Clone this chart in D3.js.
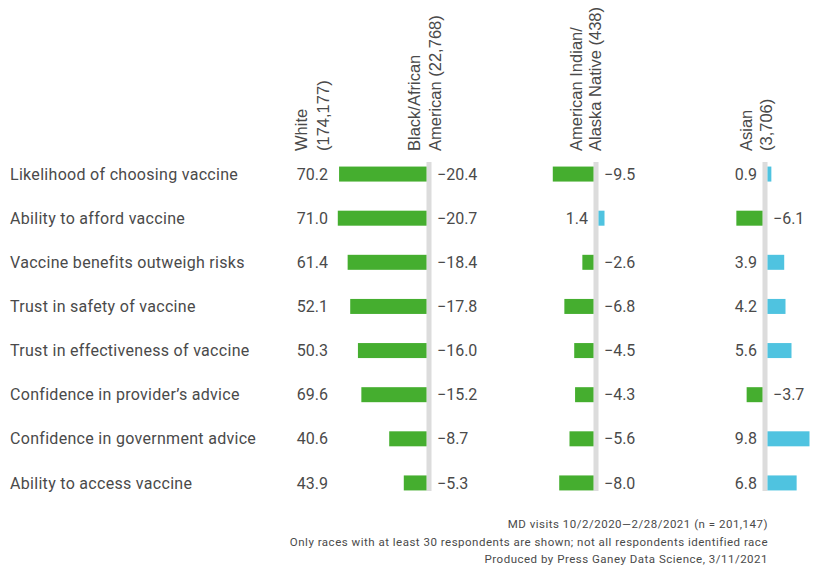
<!DOCTYPE html>
<html>
<head>
<meta charset="utf-8">
<script src="https://cdn.jsdelivr.net/npm/d3@7"></script>
<style>
  html, body { margin: 0; padding: 0; background: #ffffff; }
  svg { display: block; }
</style>
</head>
<body>
<svg id="chart" width="817" height="567"></svg>
<script>
// Vaccine attitude measures, white baseline and gaps for other groups (percentage points)
const categories = [
  "Likelihood of choosing vaccine",
  "Ability to afford vaccine",
  "Vaccine benefits outweigh risks",
  "Trust in safety of vaccine",
  "Trust in effectiveness of vaccine",
  "Confidence in provider\u2019s advice",
  "Confidence in government advice",
  "Ability to access vaccine"
];
const whiteValues = [70.2, 71.0, 61.4, 52.1, 50.3, 69.6, 40.6, 43.9];
const blackValues = [-20.4, -20.7, -18.4, -17.8, -16.0, -15.2, -8.7, -5.3];
const aianValues = [-9.5, 1.4, -2.6, -6.8, -4.5, -4.3, -5.6, -8.0];
const asianValues = [0.9, -6.1, 3.9, 4.2, 5.6, -3.7, 9.8, 6.8];

const headerWhite = ["White", "(174,177)"];
const headerBlack = ["Black/African", "American (22,768)"];
const headerAian = ["American Indian/", "Alaska Native (438)"];
const headerAsian = ["Asian", "(3,706)"];

const footnotes = [
  "MD visits 10/2/2020\u20142/28/2021 (n = 201,147)",
  "Only races with at least 30 respondents are shown; not all respondents identified race",
  "Produced by Press Ganey Data Science, 3/11/2021"
];

const svg = d3.select("#chart");
const textColor = "#4a4a4a";
const green = "#45ae2f";
const blue = "#4fc3e0";
const rule = "#dcdcdc";
const bodyFont = "Roboto, 'Open Sans', sans-serif";
const headFont = "'Liberation Sans', Arial, sans-serif";
const bodySize = 16;
const bodySpacing = 0.3;

const y = d3.scaleBand().domain(categories).range([152, 505]).padding(0);
const rowMid = d => y(d) + y.bandwidth() / 2;
const barH = 15;

// bar length per percentage point, shared by every gap column
const len = d3.scaleLinear().domain([0, 21]).range([0, 90]);

// row labels
svg.append("g").selectAll("text").data(categories).join("text")
  .attr("x", 10).attr("y", d => rowMid(d)).attr("dy", "0.35em")
  .attr("font-family", bodyFont).attr("font-size", bodySize)
  .attr("letter-spacing", bodySpacing).attr("fill", textColor)
  .text(d => d);

// white baseline column (numbers only)
svg.append("g").selectAll("text").data(whiteValues).join("text")
  .attr("x", 328).attr("y", (d, i) => rowMid(categories[i])).attr("dy", "0.35em")
  .attr("text-anchor", "end")
  .attr("font-family", bodyFont).attr("font-size", bodySize).attr("fill", textColor)
  .text(d => d.toFixed(1));

function rotatedHeader(lines, baselines) {
  const g = svg.append("g");
  lines.forEach((t, i) => {
    g.append("text")
      .attr("transform", `translate(${baselines[i]},151) rotate(-90)`)
      .attr("font-family", headFont).attr("font-size", 16.5).attr("fill", textColor)
      .text(t);
  });
}
rotatedHeader(headerWhite, [307, 329]);

// a gap column: divider rule, bars growing away from it, value labels on the opposite side
function gapColumn(values, cx, header, headerX) {
  const g = svg.append("g");
  const half = 2.5;
  g.append("rect")
    .attr("x", cx - half).attr("width", half * 2)
    .attr("y", 162).attr("height", 491 - 162)
    .attr("fill", rule);
  const rows = values.map((v, i) => ({ v, c: categories[i] }));
  g.selectAll("rect.bar").data(rows).join("rect")
    .attr("class", "bar")
    .attr("x", d => d.v < 0 ? cx - half - len(-d.v) : cx + half)
    .attr("width", d => len(Math.abs(d.v)))
    .attr("y", d => rowMid(d.c) - barH / 2)
    .attr("height", barH)
    .attr("fill", d => d.v < 0 ? green : blue);
  g.selectAll("text.val").data(rows).join("text")
    .attr("class", "val")
    .attr("x", d => d.v < 0 ? cx + 8 : cx - 8)
    .attr("y", d => rowMid(d.c)).attr("dy", "0.35em")
    .attr("text-anchor", d => d.v < 0 ? "start" : "end")
    .attr("font-family", bodyFont).attr("font-size", bodySize).attr("fill", textColor)
    .text(d => (d.v < 0 ? "\u2212" : "") + Math.abs(d.v).toFixed(1));
  rotatedHeader(header, headerX);
}

gapColumn(blackValues, 429, headerBlack, [420, 441]);
gapColumn(aianValues, 596, headerAian, [582, 601]);
gapColumn(asianValues, 765, headerAsian, [752, 772]);

// notes
svg.append("g").selectAll("text").data(footnotes).join("text")
  .attr("x", 768).attr("y", (d, i) => 528 + i * 17.5)
  .attr("text-anchor", "end")
  .attr("font-family", bodyFont).attr("font-size", 11.5)
  .attr("letter-spacing", 0.5).attr("fill", textColor)
  .text(d => d);
</script>
</body>
</html>
